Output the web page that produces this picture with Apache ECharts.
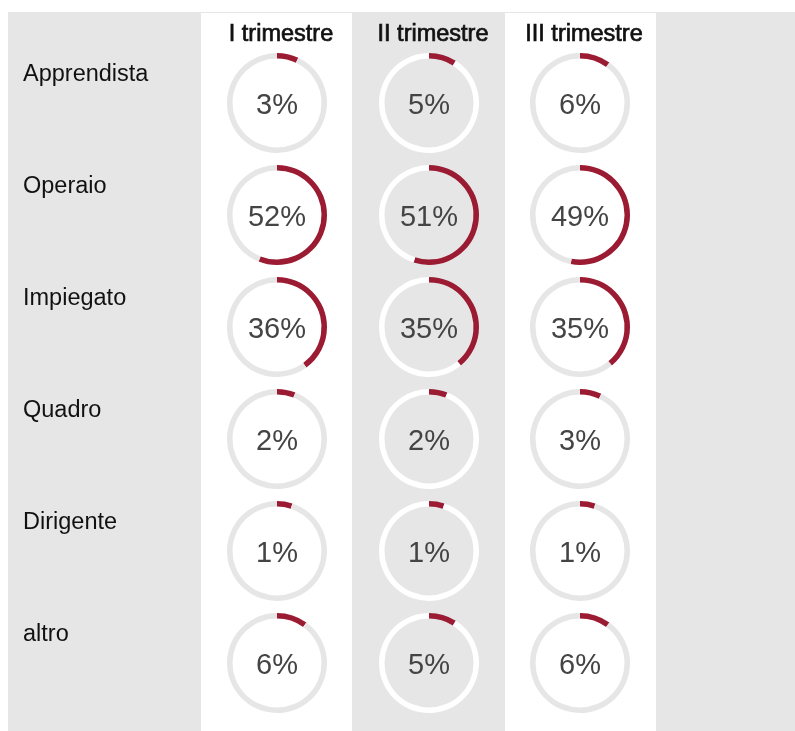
<!DOCTYPE html>
<html>
<head>
<meta charset="utf-8">
<script src="https://cdn.jsdelivr.net/npm/echarts@6/dist/echarts.min.js"></script>
<style>
  html, body { margin: 0; padding: 0; background: #fff; }
  #chart { width: 795px; height: 731px; }
</style>
</head>
<body>
<div id="chart"></div>
<script>
// dati
const categories = ['Apprendista', 'Operaio', 'Impiegato', 'Quadro', 'Dirigente', 'altro'];
const quarters = ['I trimestre', 'II trimestre', 'III trimestre'];
const q1 = [3, 52, 36, 2, 1, 6];
const q2 = [5, 51, 35, 2, 1, 5];
const q3 = [6, 49, 35, 3, 1, 6];
const values = [q1, q2, q3];

// layout
const colX = [277, 429, 580];
const rowY0 = 103, rowStep = 112;
const RED = '#9b1b33';
const GREY = '#e6e6e6';
const ARC_PAD = 4; // gli archi dell'originale vanno un po' oltre il valore

const chart = echarts.init(document.getElementById('chart'));

const series = [];
values.forEach((col, c) => {
    const track = c === 1 ? '#ffffff' : GREY;
    col.forEach((v, r) => {
        series.push({
            type: 'pie',
            silent: true,
            animation: false,
            radius: [44.5, 50],
            center: [colX[c], rowY0 + r * rowStep],
            startAngle: 90,
            clockwise: true,
            labelLine: {show: false},
            data: [
                {
                    value: v + ARC_PAD,
                    itemStyle: {color: RED},
                    label: {
                        show: true,
                        position: 'center',
                        offset: [0, 3],
                        formatter: v + '%',
                        color: '#444',
                        fontSize: 29,
                        fontFamily: 'Liberation Sans, Arial, sans-serif'
                    }
                },
                {value: 100 - v - ARC_PAD, itemStyle: {color: track}, label: {show: false}}
            ]
        });
    });
});

const graphic = [
    {type: 'rect', z: 0, shape: {x: 8, y: 12, width: 787, height: 719}, style: {fill: GREY}},
    {type: 'rect', z: 0, shape: {x: 201, y: 13, width: 151, height: 718}, style: {fill: '#fff'}},
    {type: 'rect', z: 0, shape: {x: 505, y: 13, width: 151, height: 718}, style: {fill: '#fff'}}
];
quarters.forEach((q, c) => {
    graphic.push({
        type: 'text', z: 1, x: colX[c] + 4, y: 34.5,
        style: {
            text: q, fill: '#111', fontSize: 23.5,
            stroke: '#111', lineWidth: 0.7,
            fontFamily: 'Liberation Sans, Arial, sans-serif',
            align: 'center', verticalAlign: 'middle'
        }
    });
});
categories.forEach((name, r) => {
    graphic.push({
        type: 'text', z: 1, x: 23, y: rowY0 + r * rowStep - 28,
        style: {
            text: name, fill: '#111', fontSize: 23.5,
            fontFamily: 'Liberation Sans, Arial, sans-serif',
            align: 'left', verticalAlign: 'middle'
        }
    });
});

chart.setOption({
    animation: false,
    backgroundColor: '#fff',
    graphic: graphic,
    series: series
});
</script>
</body>
</html>
